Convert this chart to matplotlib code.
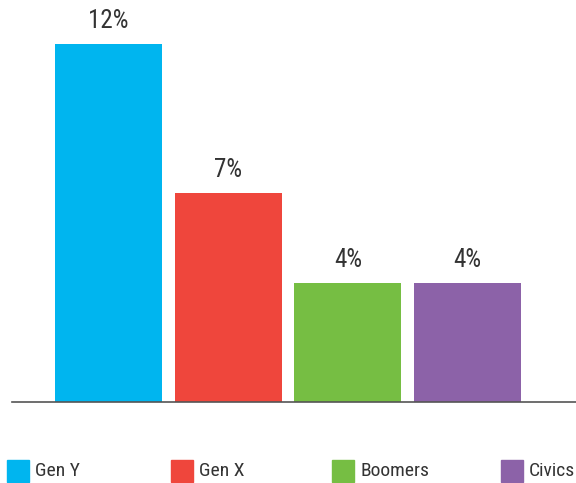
import matplotlib.pyplot as plt
from matplotlib.patches import Rectangle
from matplotlib import font_manager

generations = ['Gen Y', 'Gen X', 'Boomers', 'Civics']
shares = [12, 7, 4, 4]
colors = ['#00B5EF', '#EF463C', '#76BE43', '#8C62A8']

names = {f.name for f in font_manager.fontManager.ttflist}
fam = [f for f in ['Roboto Condensed', 'Liberation Sans Narrow', 'Roboto', 'DejaVu Sans']
       if f in names]
plt.rcParams['font.family'] = fam

W, H = 576, 483
fig = plt.figure(figsize=(W / 100, H / 100), dpi=100)

# axes: baseline at y=402px, x from 12 to 576px
ax = fig.add_axes([12 / W, (H - 402) / H, 564 / W, (402 - 14.2) / H])
x = range(len(generations))
bars = ax.bar(x, shares, width=0.894, color=colors)
ax.set_xlim(-0.806, 3.906)
ax.set_ylim(0, 13)
ax.bar_label(bars, fmt='%d%%', padding=8, fontsize=18, color='#333333')

for s in ['top', 'right', 'left']:
    ax.spines[s].set_visible(False)
ax.spines['bottom'].set_color('#555555')
ax.spines['bottom'].set_linewidth(1.2)
ax.set_xticks([])
ax.set_yticks([])

# legend along the bottom
leg_x = [7, 171, 332, 501]
for px, lab, c in zip(leg_x, generations, colors):
    fig.patches.append(Rectangle((px / W, (H - 482) / H), 22 / W, 22 / H,
                                 color=c, transform=fig.transFigure))
    fig.text((px + 28) / W, (H - 471) / H, lab, fontsize=14,
             color='#333333', va='center', ha='left')

fig.savefig('out.png', dpi=100)
